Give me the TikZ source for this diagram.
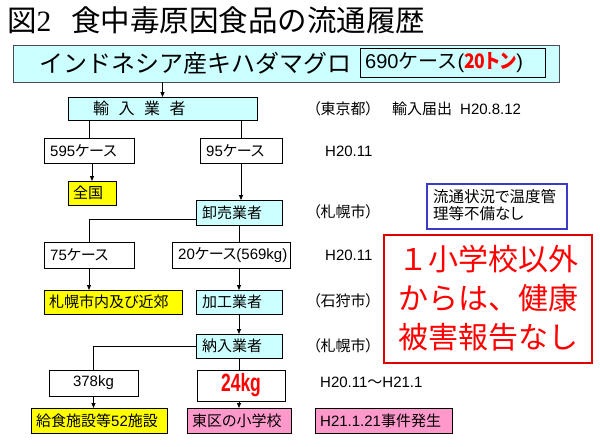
\documentclass[tikz,border=0pt]{standalone}
\usepackage{fontspec}
\usepackage{graphicx}
\setmainfont{Noto Sans CJK JP}[RawFeature=+palt]
\newfontfamily\jpf{Noto Sans CJK JP}
\newfontfamily\ar{Liberation Sans}
\newfontfamily\sr{Liberation Serif}
\usetikzlibrary{arrows.meta}
\definecolor{cyanf}{HTML}{CCFFFF}
\definecolor{yel}{HTML}{FFFF00}
\definecolor{pnk}{HTML}{FF99CC}
\definecolor{rd}{HTML}{FF0000}
\definecolor{rdb}{HTML}{E00000}
\definecolor{bl}{HTML}{3B3BC8}
\begin{document}
\begin{tikzpicture}[x=1pt,y=-1pt,
  bx/.style={draw=black, line width=0.75pt, anchor=north west, inner sep=0pt, outer sep=0pt},
  cy/.style={bx, fill=cyanf},
  yl/.style={bx, fill=yel},
  pk/.style={bx, fill=pnk},
  wt/.style={bx, fill=white},
  lab/.style={anchor=west, inner sep=0pt, font=\fontsize{15}{18}\selectfont},
  side/.style={anchor=west, inner sep=0pt, font=\fontsize{15}{18}\selectfont},
  conn/.style={draw=black, line width=0.8pt},
  arr/.style={conn, -{Triangle[length=5pt,width=4pt]}}
]
\useasboundingbox[fill=white] (0,0) rectangle (600,447);

% title
\node[anchor=west, inner sep=0pt, font=\fontsize{29.5}{33}\selectfont\jpf] (title) at (7,20) {図{\sr 2}\hspace{20pt}食中毒原因食品の流通履歴};

% source box
\node[cy, draw=black!70, minimum width=546pt, minimum height=37pt] (src) at (13,45) {};
\node[anchor=west, inner sep=0pt, font=\fontsize{24}{28}\selectfont\jpf] (srct) at (39,63.5) {インドネシア産キハダマグロ};
\node[cy, minimum width=185pt, minimum height=29pt] (qty) at (360,48) {};
\node[anchor=west, inner sep=0pt, font=\fontsize{20}{22}\selectfont] (qtyt) at ([xshift=5pt]qty.west) {{\ar 690}{\jpf ケース}{\ar (}{\color{rd}\bfseries\scalebox{0.88}[1]{20トン}}{\ar )}};

% importer
\node[cy, minimum width=189pt, minimum height=23pt] (imp) at (68,97) {};
\node[anchor=west, inner sep=0pt, font=\fontsize{16}{18}\selectfont] (impt) at (93,108.5) {輸\hspace{9.5pt}入\hspace{9.5pt}業\hspace{9.5pt}者};
\node[side] (tokyo) at (313,109) {（東京都）};
\node[side] (todoke) at (392,109) {輸入届出\hspace{8pt}{\ar H20.8.12}};

% 595 / 95
\node[wt, minimum width=90pt, minimum height=25pt] (c595) at (44,138) {};
\node[lab] (t595) at ([xshift=6pt]c595.west) {{\ar 595}ケース};
\node[wt, minimum width=82pt, minimum height=25pt] (c95) at (200,138) {};
\node[lab] (t95) at ([xshift=6pt]c95.west) {{\ar 95}ケース};
\node[side] (d1) at (325,151) {\ar H20.11};

\node[yl, minimum width=48pt, minimum height=24pt] (zen) at (68,181) {};
\node[lab] (tzen) at ([xshift=5pt]zen.west) {全国};
\node[cy, minimum width=86pt, minimum height=25pt] (oro) at (196,200) {};
\node[lab] (toro) at ([xshift=6pt]oro.west) {卸売業者};
\node[side] (sap1) at (313,212) {（札幌市）};

% note box
\node[bx, draw=bl, line width=1.4pt, fill=white, minimum width=140pt, minimum height=45pt] (note) at (427,184) {};
\node[anchor=north west, inner sep=0pt, align=left, font=\fontsize{15.5}{17}\selectfont] (notet) at (433,189) {流通状況で温度管\\理等不備なし};

% 75 / 20
\node[wt, minimum width=90pt, minimum height=26pt] (c75) at (44,242) {};
\node[lab] (t75) at ([xshift=6pt]c75.west) {{\ar 75}ケース};
\node[wt, minimum width=118pt, minimum height=26pt] (c20) at (172,242) {};
\node[lab] (t20) at ([xshift=6pt]c20.west) {{\ar 20}ケース{\ar (569kg)}};
\node[side] (d2) at (325,255) {\ar H20.11};

\node[yl, minimum width=138pt, minimum height=24pt] (sap) at (44,290) {};
\node[lab] (tsap) at ([xshift=5pt]sap.west) {札幌市内及び近郊};
\node[cy, minimum width=86pt, minimum height=24pt] (kako) at (196,290) {};
\node[lab] (tkako) at ([xshift=6pt]kako.west) {加工業者};
\node[side] (ishi) at (313,301) {（石狩市）};

\node[cy, minimum width=86pt, minimum height=24pt] (non) at (196,334) {};
\node[lab] (tnon) at ([xshift=6pt]non.west) {納入業者};
\node[side] (sap2) at (313,346) {（札幌市）};

% red box
\node[bx, draw=rdb, line width=2.2pt, fill=white, minimum width=208pt, minimum height=128pt] (red) at (384,235) {};
\node[anchor=center, inner sep=0pt, align=center, text=rd, font=\fontsize{30}{39}\selectfont\jpf] (redt) at ([yshift=1pt]red.center) {１小学校以外\\からは、健康\\被害報告なし};

% 378 / 24
\node[wt, minimum width=89pt, minimum height=26pt] (c378) at (49,370) {};
\node[anchor=center, inner sep=0pt, font=\fontsize{15}{18}\selectfont] (t378) at (c378.center) {\ar 378kg};
\node[wt, minimum width=88pt, minimum height=31pt] (c24) at (197,370) {};
\node[anchor=center, inner sep=0pt, text=rd, font=\fontsize{25}{28}\selectfont] (t24) at (c24.center) {\ar\bfseries\scalebox{0.7}[1]{24kg}};
\node[side] (d3) at (320,382) {{\ar H20.11}～{\ar H21.1}};

\node[yl, minimum width=136pt, minimum height=25pt] (kyu) at (31,408) {};
\node[lab] (tkyu) at ([xshift=5pt]kyu.west) {給食施設等{\ar 52}施設};
\node[pk, minimum width=104pt, minimum height=25pt] (hig) at (187,408) {};
\node[lab] (thig) at ([xshift=5pt]hig.west) {東区の小学校};
\node[pk, minimum width=137pt, minimum height=25pt] (inc) at (315,408) {};
\node[lab] (tinc) at ([xshift=5pt]inc.west) {{\ar H21.1.21}事件発生};

% connectors
\draw[arr] (imp.north |- src.south) -- (imp.north);
\draw[conn] (c595.north |- imp.south) -- (c595.north);
\draw[conn] (c95.north |- imp.south) -- (c95.north);
\draw[arr] (zen.north |- c595.south) -- (zen.north);
\draw[arr] (c95.south) -- (c95.south |- oro.north);
\draw[conn] ([yshift=-6.5pt]oro.west) -| (c75.north);
\draw[conn] (oro.south) -- (oro.south |- c20.north);
\draw[arr] (c75.south) -- (c75.south |- sap.north);
\draw[arr] (kako.north |- c20.south) -- (kako.north);
\draw[arr] (kako.south) -- (non.north);
\draw[conn] (non.west) -| (c378.north);
\draw[conn] (non.south) -- (non.south |- c24.north);
\draw[arr] (c378.south) -- (c378.south |- kyu.north);
\draw[arr] (c24.south -| non.south) -- (non.south |- hig.north);
\end{tikzpicture}
\end{document}
